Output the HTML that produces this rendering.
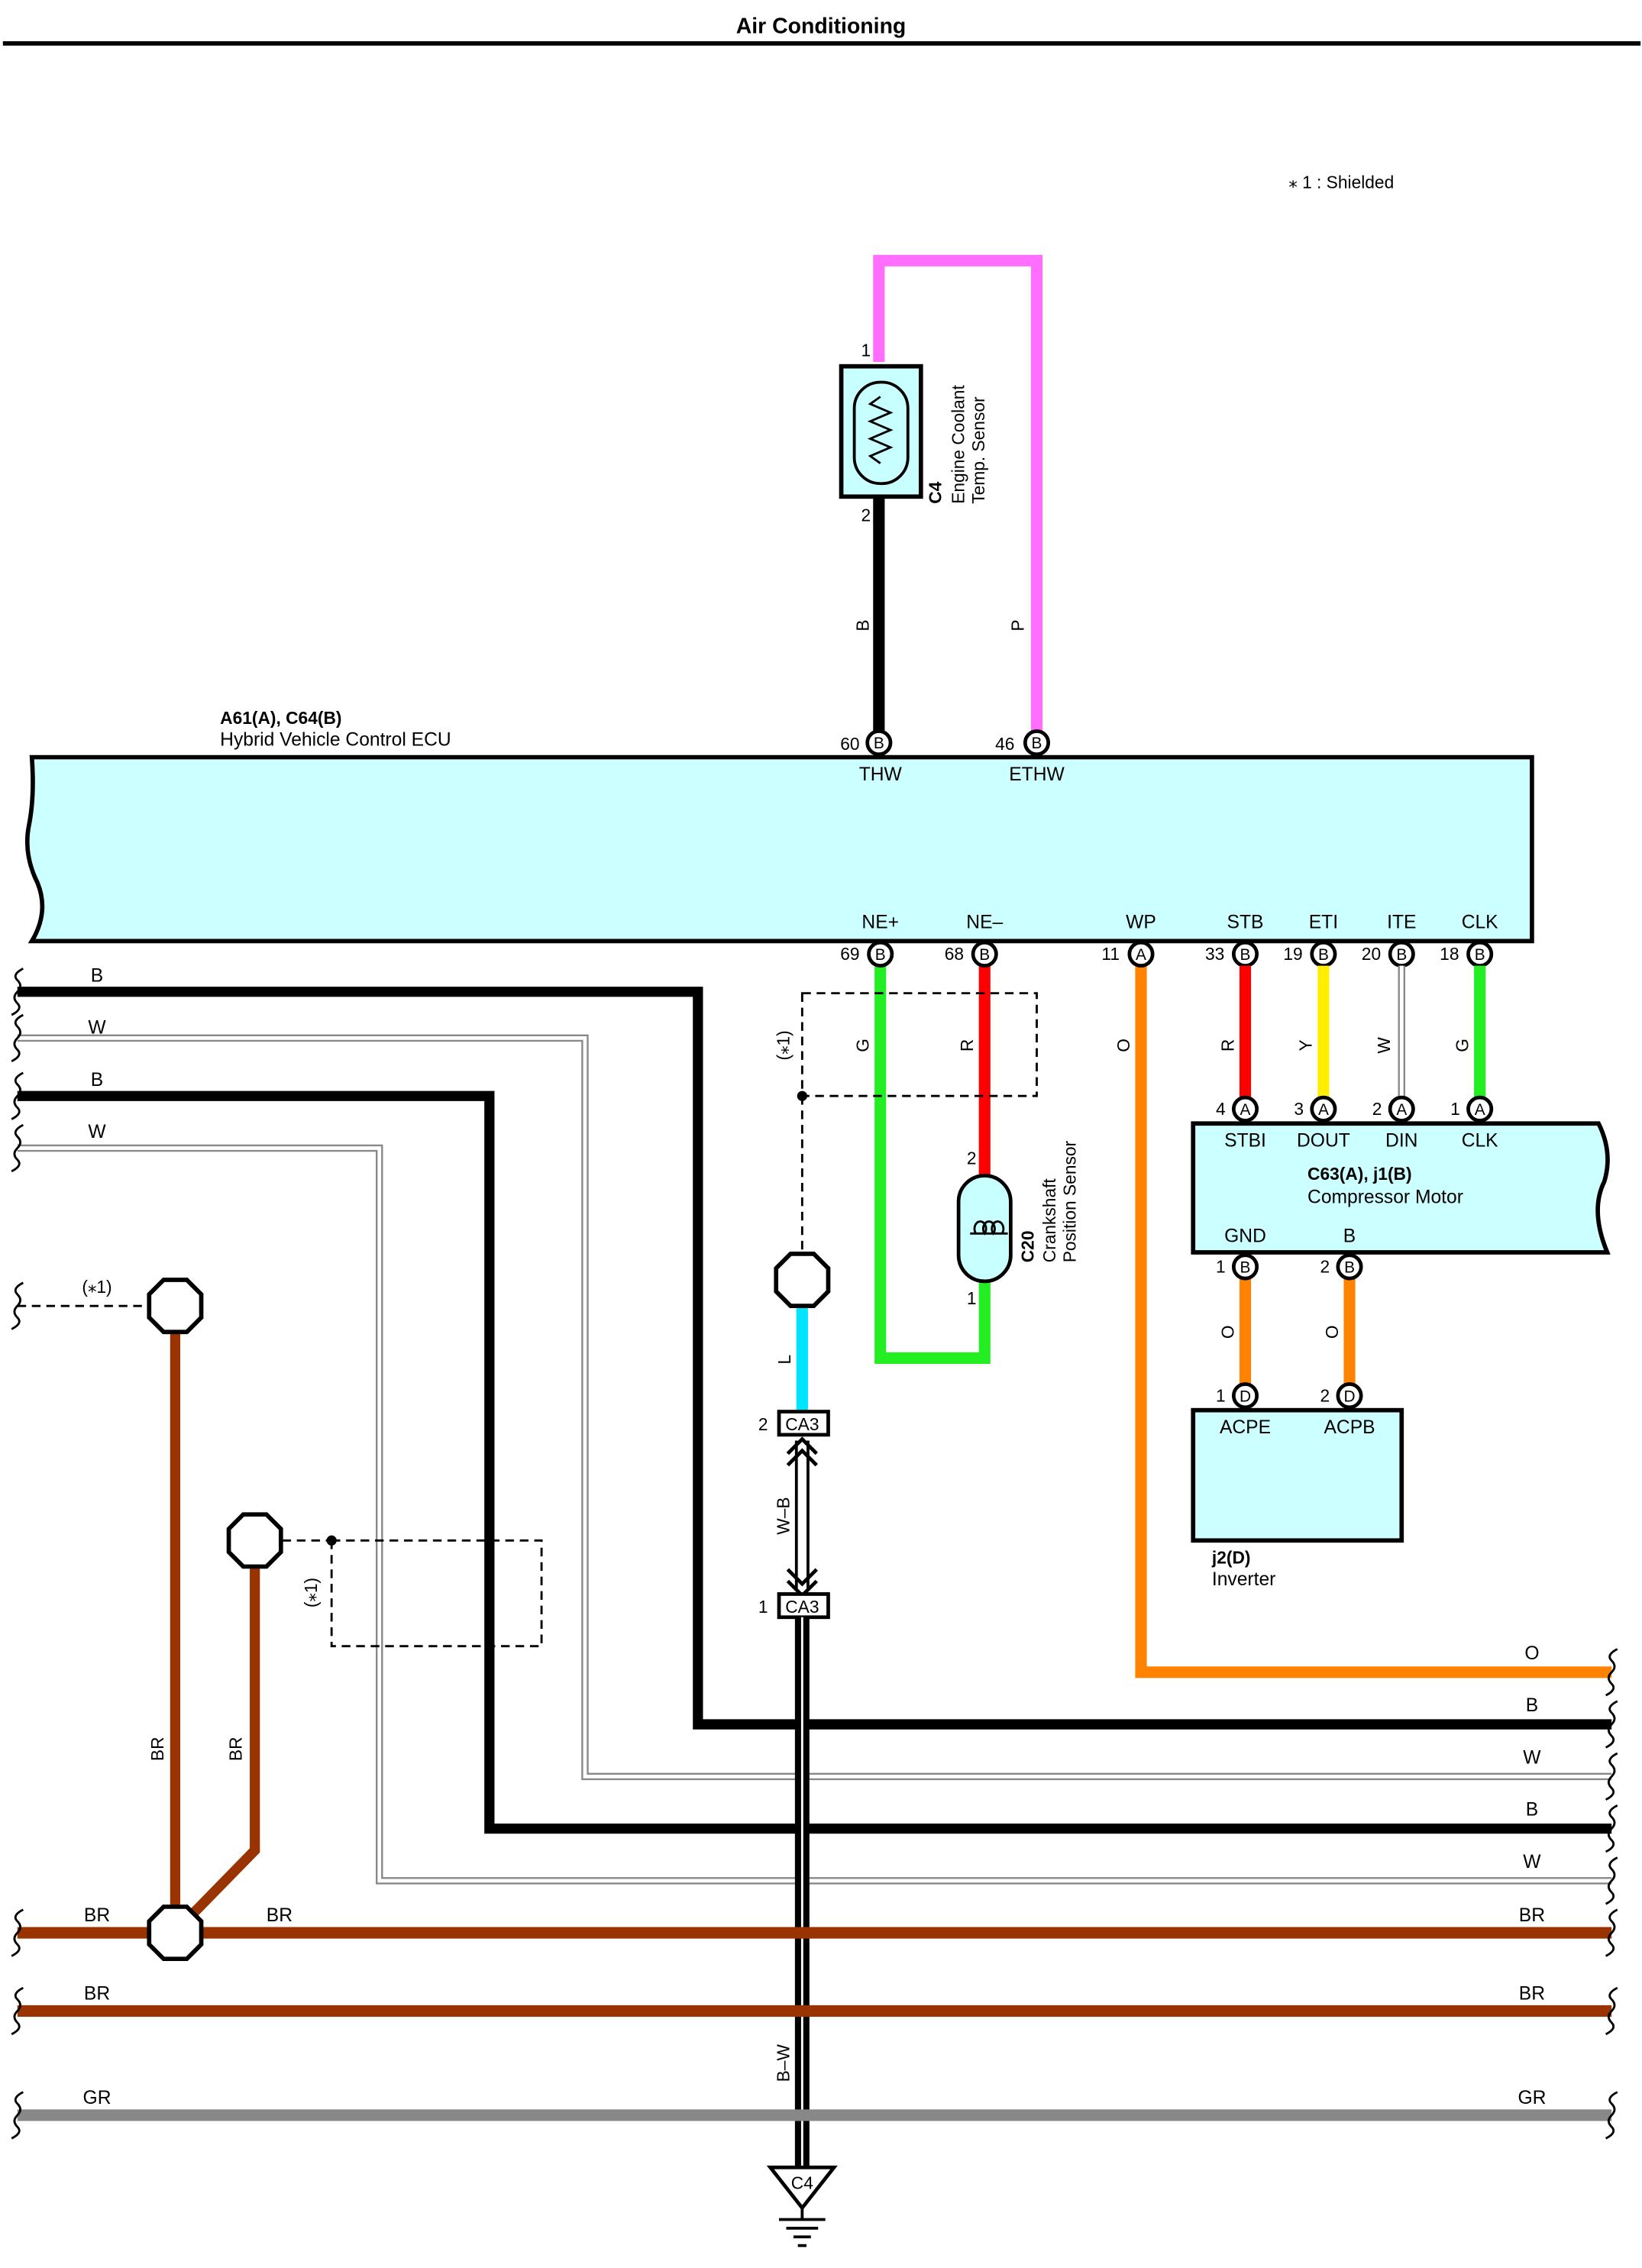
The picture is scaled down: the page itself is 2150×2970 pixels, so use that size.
<!DOCTYPE html>
<html><head><meta charset="utf-8"><style>
html,body{margin:0;padding:0;background:#fff;}
svg{display:block;}
text{font-family:"Liberation Sans",sans-serif;font-size:13px;fill:#000;}
.c{text-anchor:middle;}
.b{font-weight:bold;}
.w{fill:none;stroke-linecap:butt;stroke-linejoin:miter;}
.pin{fill:#fff;stroke:#000;stroke-width:2.5;}
.pl{font-size:11px;text-anchor:middle;}
.wv{fill:none;stroke:#000;stroke-width:1.5;}
</style></head><body>
<svg width="2150" height="2970" viewBox="0 0 1134 1566.5" xmlns="http://www.w3.org/2000/svg">
<defs>
<g id="wvl"><path class="wv" d="M4,-16 q-8,4 -4,8 q4,4 0,8 q-4,4 0,8 q4,4 -4,8"/></g>
<g id="oct"><polygon points="-8,-18 8,-18 18,-8 18,8 8,18 -8,18 -18,8 -18,-8" fill="#fff" stroke="#000" stroke-width="3"/></g>
</defs>
<text x="567" y="23" class="c b" style="font-size:15px">Air Conditioning</text>
<line x1="2" y1="30" x2="1133" y2="30" stroke="#000" stroke-width="3"/>
<text x="890" y="130" style="font-size:12px">⁎ 1 : Shielded</text>

<path class="w" d="M607,250 V180 H716 V505" stroke="#ff6eff" stroke-width="8"/>
<path class="w" d="M607,343 V505" stroke="#000" stroke-width="8"/>
<text x="598" y="246" class="c" style="font-size:12px">1</text>
<text x="598" y="360" class="c" style="font-size:12px">2</text>
<text transform="translate(600,432) rotate(-90)" class="c" style="font-size:12px">B</text>
<text transform="translate(707,432) rotate(-90)" class="c" style="font-size:12px">P</text>
<rect x="581" y="253" width="55" height="90" fill="#c8ffff" stroke="#000" stroke-width="3"/>
<rect x="590" y="264" width="37" height="70" rx="18" fill="#c8ffff" stroke="#000" stroke-width="2"/>
<path d="M608,274 l-7,5 l14,6 l-14,6 l14,6 l-14,6 l14,6 l-14,6 l7,5" fill="none" stroke="#000" stroke-width="1.5"/>
<text transform="translate(650,348) rotate(-90)" class="b" style="font-size:12px">C4</text>
<text transform="translate(666,348) rotate(-90)" style="font-size:12px">Engine Coolant</text>
<text transform="translate(680,348) rotate(-90)" style="font-size:12px">Temp. Sensor</text>

<text x="152" y="500" class="b" style="font-size:12px">A61(A), C64(B)</text>
<text x="152" y="515" style="font-size:13px">Hybrid Vehicle Control ECU</text>
<path d="M22,523 H1058 V650 H22 q12,-20 4,-40 q-10,-20 -6,-40 q4,-20 2,-47 z" fill="#ccffff" stroke="#000" stroke-width="3"/>
<circle cx="607" cy="513" r="8" class="pin"/><text x="607" y="517" class="pl">B</text>
<circle cx="716" cy="513" r="8" class="pin"/><text x="716" y="517" class="pl">B</text>
<text x="587" y="518" class="c" style="font-size:12px">60</text>
<text x="694" y="518" class="c" style="font-size:12px">46</text>
<text x="608" y="539" class="c">THW</text>
<text x="716" y="539" class="c">ETHW</text>
<text x="608" y="641" class="c">NE+</text><text x="680" y="641" class="c">NE–</text><text x="788" y="641" class="c">WP</text>
<text x="860" y="641" class="c">STB</text><text x="914" y="641" class="c">ETI</text><text x="968" y="641" class="c">ITE</text><text x="1022" y="641" class="c">CLK</text>

<path class="w" d="M12,685 H482 V1191 H1113" stroke="#000" stroke-width="7"/>
<path class="w" d="M12,717 H404 V1227 H1113" stroke="#888" stroke-width="5"/>
<path class="w" d="M12,717 H404 V1227 H1113" stroke="#fff" stroke-width="2.5"/>
<path class="w" d="M12,757 H338 V1263 H1113" stroke="#000" stroke-width="7"/>
<path class="w" d="M12,793 H262 V1299 H1113" stroke="#888" stroke-width="5"/>
<path class="w" d="M12,793 H262 V1299 H1113" stroke="#fff" stroke-width="2.5"/>
<text x="67" y="678" class="c">B</text><text x="67" y="714" class="c">W</text>
<text x="67" y="750" class="c">B</text><text x="67" y="786" class="c">W</text>

<path class="w" d="M788,667 V1155 H1113" stroke="#ff8200" stroke-width="8"/>
<text transform="translate(780,722) rotate(-90)" class="c" style="font-size:12px">O</text>
<text x="1058" y="1146" class="c">O</text><text x="1058" y="1182" class="c">B</text>
<text x="1058" y="1218" class="c">W</text><text x="1058" y="1254" class="c">B</text><text x="1058" y="1290" class="c">W</text>

<path class="w" d="M608,667 V938 H680 V880" stroke="#22ee22" stroke-width="8"/>
<path class="w" d="M680,667 V815" stroke="#ff0000" stroke-width="8"/>
<rect x="554" y="686" width="162" height="71" fill="none" stroke="#000" stroke-width="1.5" stroke-dasharray="6,4"/>
<path d="M554,757 V866" stroke="#000" stroke-width="1.5" stroke-dasharray="6,4"/>
<circle cx="554" cy="757" r="3.5"/>
<text transform="translate(545,722) rotate(-90)" class="c" style="font-size:12px">(⁎1)</text>
<text transform="translate(600,722) rotate(-90)" class="c" style="font-size:12px">G</text>
<text transform="translate(672,722) rotate(-90)" class="c" style="font-size:12px">R</text>
<text x="671" y="804" class="c" style="font-size:12px">2</text>
<text x="671" y="901" class="c" style="font-size:12px">1</text>
<rect x="662" y="812" width="36" height="73" rx="18" fill="#c8ffff" stroke="#000" stroke-width="2.5"/>
<path d="M674,852 a4,5 0 1 1 6,0 a4,5 0 1 1 6,0 a4,5 0 1 1 6,0 M670,852 h26" fill="none" stroke="#000" stroke-width="1.5"/>
<text transform="translate(714,872) rotate(-90)" class="b" style="font-size:12px">C20</text>
<text transform="translate(729,872) rotate(-90)" style="font-size:12px">Crankshaft</text>
<text transform="translate(743,872) rotate(-90)" style="font-size:12px">Position Sensor</text>

<circle cx="608" cy="659" r="8" class="pin"/><text x="608" y="663" class="pl">B</text><text x="587" y="663" class="c" style="font-size:12px">69</text>
<circle cx="680" cy="659" r="8" class="pin"/><text x="680" y="663" class="pl">B</text><text x="659" y="663" class="c" style="font-size:12px">68</text>
<circle cx="788" cy="659" r="8" class="pin"/><text x="788" y="663" class="pl">A</text><text x="767" y="663" class="c" style="font-size:12px">11</text>
<circle cx="860" cy="659" r="8" class="pin"/><text x="860" y="663" class="pl">B</text><text x="839" y="663" class="c" style="font-size:12px">33</text>
<circle cx="914" cy="659" r="8" class="pin"/><text x="914" y="663" class="pl">B</text><text x="893" y="663" class="c" style="font-size:12px">19</text>
<circle cx="968" cy="659" r="8" class="pin"/><text x="968" y="663" class="pl">B</text><text x="947" y="663" class="c" style="font-size:12px">20</text>
<circle cx="1022" cy="659" r="8" class="pin"/><text x="1022" y="663" class="pl">B</text><text x="1001" y="663" class="c" style="font-size:12px">18</text>

<path class="w" d="M860,667 V758" stroke="#ff0000" stroke-width="8"/>
<path class="w" d="M914,667 V758" stroke="#ffee00" stroke-width="8"/>
<path class="w" d="M968,667 V758" stroke="#888" stroke-width="5"/>
<path class="w" d="M968,667 V758" stroke="#fff" stroke-width="2.5"/>
<path class="w" d="M1022,667 V758" stroke="#22ee22" stroke-width="8"/>
<text transform="translate(852,722) rotate(-90)" class="c" style="font-size:12px">R</text>
<text transform="translate(906,722) rotate(-90)" class="c" style="font-size:12px">Y</text>
<text transform="translate(960,722) rotate(-90)" class="c" style="font-size:12px">W</text>
<text transform="translate(1014,722) rotate(-90)" class="c" style="font-size:12px">G</text>
<path d="M824,776 H1104 q10,20 4,40 q-10,20 2,49 H824 z" fill="#ccffff" stroke="#000" stroke-width="3"/>
<circle cx="860" cy="766" r="8" class="pin"/><text x="860" y="770" class="pl">A</text><text x="843" y="770" class="c" style="font-size:12px">4</text>
<circle cx="914" cy="766" r="8" class="pin"/><text x="914" y="770" class="pl">A</text><text x="897" y="770" class="c" style="font-size:12px">3</text>
<circle cx="968" cy="766" r="8" class="pin"/><text x="968" y="770" class="pl">A</text><text x="951" y="770" class="c" style="font-size:12px">2</text>
<circle cx="1022" cy="766" r="8" class="pin"/><text x="1022" y="770" class="pl">A</text><text x="1005" y="770" class="c" style="font-size:12px">1</text>
<text x="860" y="792" class="c">STBI</text><text x="914" y="792" class="c">DOUT</text><text x="968" y="792" class="c">DIN</text><text x="1022" y="792" class="c">CLK</text>
<text x="903" y="815" class="b" style="font-size:12px">C63(A), j1(B)</text>
<text x="903" y="831">Compressor Motor</text>
<text x="860" y="858" class="c">GND</text><text x="932" y="858" class="c">B</text>
<path class="w" d="M860,883 V956 M932,883 V956" stroke="#ff8200" stroke-width="8"/>
<circle cx="860" cy="875" r="8" class="pin"/><text x="860" y="879" class="pl">B</text><text x="843" y="879" class="c" style="font-size:12px">1</text>
<circle cx="932" cy="875" r="8" class="pin"/><text x="932" y="879" class="pl">B</text><text x="915" y="879" class="c" style="font-size:12px">2</text>
<text transform="translate(852,920) rotate(-90)" class="c" style="font-size:12px">O</text>
<text transform="translate(924,920) rotate(-90)" class="c" style="font-size:12px">O</text>
<rect x="824" y="974" width="144" height="90" fill="#ccffff" stroke="#000" stroke-width="3"/>
<circle cx="860" cy="964" r="8" class="pin"/><text x="860" y="968" class="pl">D</text><text x="843" y="968" class="c" style="font-size:12px">1</text>
<circle cx="932" cy="964" r="8" class="pin"/><text x="932" y="968" class="pl">D</text><text x="915" y="968" class="c" style="font-size:12px">2</text>
<text x="860" y="990" class="c">ACPE</text><text x="932" y="990" class="c">ACPB</text>
<text x="837" y="1080" class="b" style="font-size:12px">j2(D)</text>
<text x="837" y="1095">Inverter</text>

<path class="w" d="M554,903 V975" stroke="#00e5ff" stroke-width="8"/>
<use href="#oct" x="554" y="884"/>
<text transform="translate(546,939) rotate(-90)" class="c" style="font-size:12px">L</text>
<rect x="538" y="975" width="34" height="16" fill="#fff" stroke="#000" stroke-width="2.5"/>
<text x="554" y="988" class="c" style="font-size:12px">CA3</text><text x="527" y="988" class="c" style="font-size:12px">2</text>
<path d="M550,995 V1097 M558,995 V1097" stroke="#000" stroke-width="2"/>
<path d="M544,1004 l10,-10 l10,10 M544,1012 l10,-10 l10,10 M544,1084 l10,10 l10,-10 M544,1092 l10,10 l10,-10" fill="none" stroke="#000" stroke-width="2.5"/>
<text transform="translate(545,1047) rotate(-90)" class="c" style="font-size:12px">W–B</text>
<rect x="538" y="1101" width="34" height="16" fill="#fff" stroke="#000" stroke-width="2.5"/>
<text x="554" y="1114" class="c" style="font-size:12px">CA3</text><text x="527" y="1114" class="c" style="font-size:12px">1</text>
<path d="M554,1117 V1497" stroke="#000" stroke-width="10"/>
<path d="M554,1117 V1497" stroke="#fff" stroke-width="1.5"/>
<text transform="translate(545,1425) rotate(-90)" class="c" style="font-size:12px">B–W</text>
<polygon points="532,1497 576,1497 554,1525" fill="#fff" stroke="#000" stroke-width="2.5"/>
<text x="554" y="1512" class="c" style="font-size:12px">C4</text>
<path d="M554,1525 V1533 M538,1533 H570 M543,1539 H565 M548,1545 H560 M551,1551 H557" stroke="#000" stroke-width="2"/>

<path d="M12,902 H103" stroke="#000" stroke-width="1.5" stroke-dasharray="6,4"/>
<text x="67" y="893" class="c" style="font-size:12px">(⁎1)</text>
<path class="w" d="M121,921 V1318" stroke="#993300" stroke-width="7"/>
<path class="w" d="M176,1083 V1278 L133,1322" stroke="#993300" stroke-width="7"/>
<path class="w" d="M12,1335 H1113" stroke="#993300" stroke-width="8"/>
<path class="w" d="M12,1389 H1113" stroke="#993300" stroke-width="8"/>
<path class="w" d="M12,1461 H1113" stroke="#888" stroke-width="8"/>
<use href="#oct" x="121" y="902"/>
<use href="#oct" x="176" y="1064"/>
<use href="#oct" x="121" y="1335"/>
<path d="M195,1064 H229" stroke="#000" stroke-width="1.5" stroke-dasharray="6,4"/>
<rect x="229" y="1064" width="145" height="73" fill="none" stroke="#000" stroke-width="1.5" stroke-dasharray="6,4"/>
<circle cx="229" cy="1064" r="3.5"/>
<text transform="translate(219,1100) rotate(-90)" class="c" style="font-size:12px">(⁎1)</text>
<text transform="translate(113,1208) rotate(-90)" class="c" style="font-size:12px">BR</text>
<text transform="translate(167,1208) rotate(-90)" class="c" style="font-size:12px">BR</text>
<text x="67" y="1327" class="c">BR</text><text x="193" y="1327" class="c">BR</text><text x="1058" y="1327" class="c">BR</text>
<text x="67" y="1381" class="c">BR</text><text x="1058" y="1381" class="c">BR</text>
<text x="67" y="1453" class="c">GR</text><text x="1058" y="1453" class="c">GR</text>

<use href="#wvl" x="12" y="685"/><use href="#wvl" x="12" y="717"/><use href="#wvl" x="12" y="757"/><use href="#wvl" x="12" y="793"/>
<use href="#wvl" x="12" y="902"/><use href="#wvl" x="12" y="1335"/><use href="#wvl" x="12" y="1389"/><use href="#wvl" x="12" y="1461"/>
<use href="#wvl" x="1113" y="1155"/><use href="#wvl" x="1113" y="1191"/><use href="#wvl" x="1113" y="1227"/><use href="#wvl" x="1113" y="1263"/>
<use href="#wvl" x="1113" y="1299"/><use href="#wvl" x="1113" y="1335"/><use href="#wvl" x="1113" y="1389"/><use href="#wvl" x="1113" y="1461"/>
</svg>
</body></html>
